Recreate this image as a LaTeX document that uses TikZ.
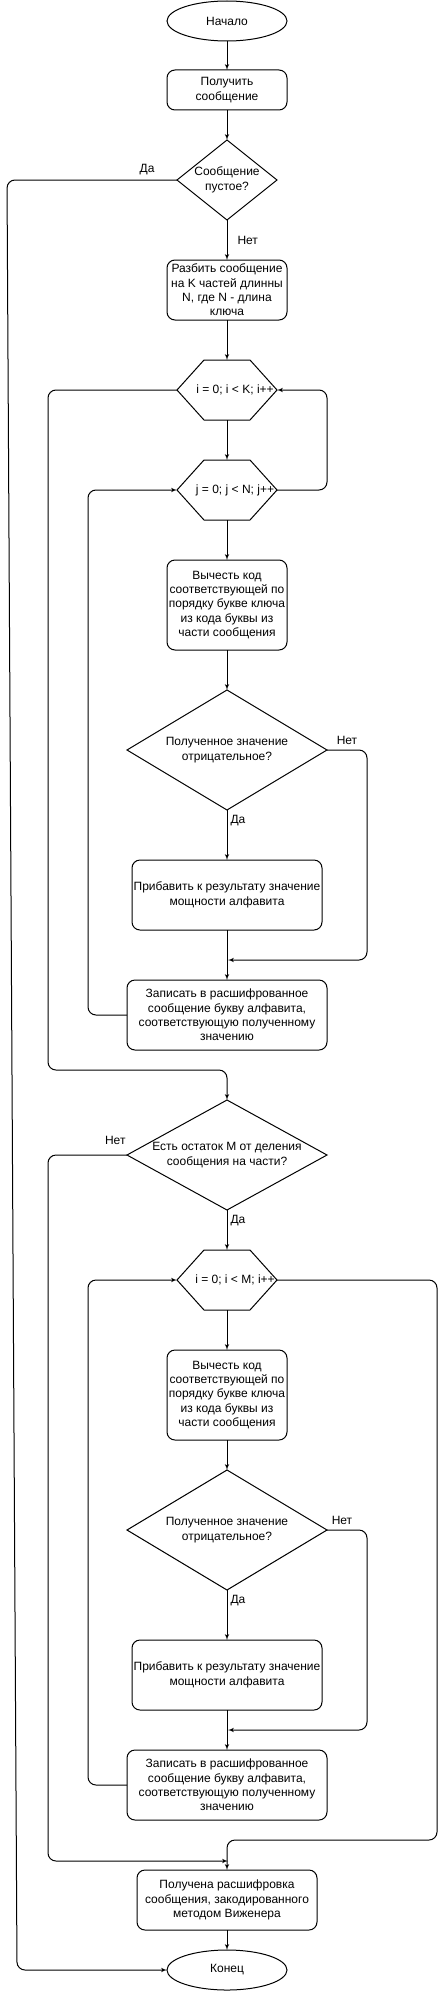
\documentclass[tikz,border=0pt]{standalone}
\usepackage{fontspec}
\setmainfont{Liberation Sans}
\usetikzlibrary{shapes,arrows,positioning}

\begin{document}
\begin{tikzpicture}[x=1pt, y=-1pt, node distance=40pt, >=latex', line width=1pt, font=\fontsize{12}{14.4}\selectfont]
    % Define block styles
    \tikzstyle{block} = [rectangle, draw, align=center, rounded corners=8pt, minimum width=120pt, inner sep=1pt, outer sep=0pt]
    \tikzstyle{term} = [ellipse, draw, minimum width=120pt, minimum height=40pt, inner sep=0pt, outer sep=0pt]
    \tikzstyle{decision} = [diamond, draw, align=center, inner sep=0pt, outer sep=0pt]
    \tikzstyle{hexa} = [rectangle, minimum width=100pt, minimum height=60pt, inner sep=0pt, outer sep=0pt]
    \tikzstyle{line} = [draw, ->, rounded corners=8pt]
    \tikzstyle{lbl} = [inner sep=1pt]

    \useasboundingbox (0,0) rectangle (446,1991);

    % Nodes
    \node [term] (start) at (227,21) {Начало};
    \node [block, minimum height=40pt, below=29pt of start] (get message) {Получить\\сообщение};
    \node [decision, minimum width=100pt, minimum height=80pt, shape aspect=1.25, below=30pt of get message] (empty check) {Сообщение\\пустое?};
    \node [block, minimum height=60pt, below=of empty check] (split message) {Разбить сообщение\\на K частей длинны\\N, где N - длина\\ключа};
    \node [hexa, below=of split message] (loop i) {\hspace*{16pt}i = 0; i < K; i++};
    \node [hexa, below=of loop i] (loop j) {\hspace*{16pt}j = 0; j < N; j++};
    \node [block, minimum height=90pt, below=of loop j] (subtract 1) {Вычесть код\\соответствующей по\\порядку букве ключа\\из кода буквы из\\части сообщения};
    \node [decision, minimum width=200pt, minimum height=120pt, shape aspect=2, below=of subtract 1] (negative 1) {Полученное значение\\отрицательное?};
    \node [block, minimum width=190pt, minimum height=70pt, below=50pt of negative 1] (add 1) {Прибавить к результату значение\\мощности алфавита};
    \node [block, minimum width=200pt, minimum height=70pt, below=50pt of add 1] (write 1) {Записать в расшифрованное\\сообщение букву алфавита,\\соответствующую полученному\\значению};
    \node [decision, minimum width=200pt, minimum height=110pt, shape aspect=1.87, below=50pt of write 1] (remainder) {Есть остаток M от деления\\сообщения на части?};
    \node [hexa, below=of remainder] (loop m) {\hspace*{16pt}i = 0; i < M; i++};
    \node [block, minimum height=90pt, below=of loop m] (subtract 2) {Вычесть код\\соответствующей по\\порядку букве ключа\\из кода буквы из\\части сообщения};
    \node [decision, minimum width=200pt, minimum height=120pt, shape aspect=2, below=30pt of subtract 2] (negative 2) {Полученное значение\\отрицательное?};
    \node [block, minimum width=190pt, minimum height=70pt, below=50pt of negative 2] (add 2) {Прибавить к результату значение\\мощности алфавита};
    \node [block, minimum width=200pt, minimum height=70pt, below=of add 2] (write 2) {Записать в расшифрованное\\сообщение букву алфавита,\\соответствующую полученному\\значению};
    \node [block, minimum width=180pt, minimum height=60pt, below=50pt of write 2] (result) {Получена расшифровка\\сообщения, закодированного\\методом Виженера};
    \node [term, below=20pt of result] (finish) {Конец};

    % Hexagon outlines
    \foreach \h in {loop i, loop j, loop m}
        \draw ([xshift=27pt]\h.north west) -- ([xshift=-27pt]\h.north east) -- (\h.east) -- ([xshift=-27pt]\h.south east) -- ([xshift=27pt]\h.south west) -- (\h.west) -- cycle;

    % Joints
    \coordinate (join 1) at (228,960);
    \coordinate (join 2) at (227,1070);
    \coordinate (join 3) at (228,1861);
    \coordinate (join 4) at (228,1730);
    \coordinate (join 5) at (227,1840);

    % Connecting lines
    \path [line] (start) -- (get message);
    \path [line] (get message) -- (empty check);
    \path [line] (empty check) -- node [lbl, right=9pt] {Нет} (split message);
    \path [line] (empty check.west) -- node [lbl, above left=4pt and 21pt, pos=0] {Да} (7,180) -- (17,1970) -- (finish.west);
    \path [line] (split message) -- (loop i);
    \path [line] (loop i) -- (loop j);
    \path [line] (loop j.east) -- ++(50,0) |- (loop i.east);
    \path [line] (loop j) -- (subtract 1);
    \path [line] (subtract 1) -- (negative 1);
    \path [line] (negative 1) -- node [lbl, right=2pt, pos=0.22] {Да} (add 1);
    \path [line] (negative 1.east) -- node [lbl, above=4pt] {Нет} ++(40,0) |- (join 1);
    \path [line] (add 1) -- (write 1);
    \path [line] (write 1.west) -- ++(-39,0) |- (loop j.west);
    \path [line] (loop i.west) -- ++(-129,0) |- (join 2) -- (remainder);
    \path [line] (remainder) -- node [lbl, right=2pt, pos=0.26] {Да} (loop m);
    \path [line] (remainder.west) -- node [lbl, above left=9pt and 0pt, pos=0] {Нет} ++(-79,0) |- (join 3);
    \path [line] (loop m) -- (subtract 2);
    \path [line] (subtract 2) -- (negative 2);
    \path [line] (negative 2) -- node [lbl, right=2pt, pos=0.22] {Да} (add 2);
    \path [line] (negative 2.east) -- node [lbl, above=4pt, pos=0.375] {Нет} ++(40,0) |- (join 4);
    \path [line] (add 2) -- (write 2);
    \path [line] (write 2.west) -- ++(-39,0) |- (loop m.west);
    \path [line] (loop m.east) -- ++(160,0) |- (join 5) -- (result);
    \path [line] (result) -- (finish);
\end{tikzpicture}
\end{document}
